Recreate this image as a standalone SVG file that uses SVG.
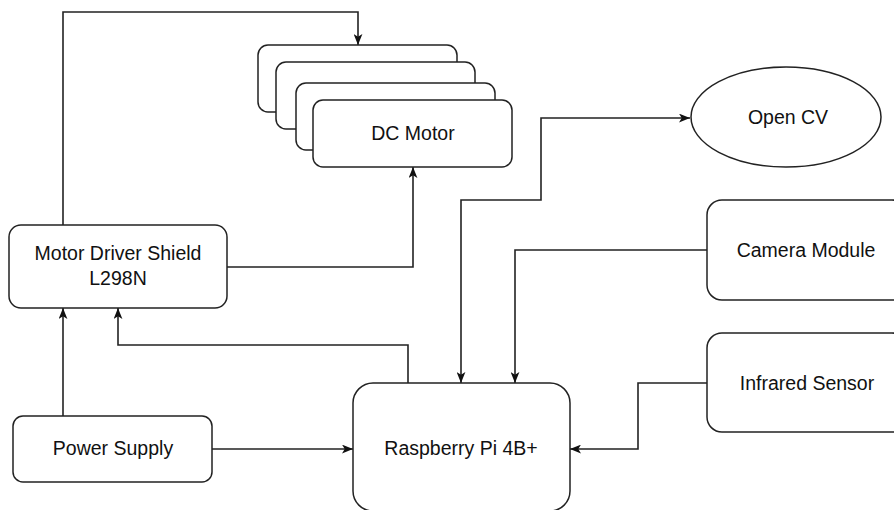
<svg xmlns="http://www.w3.org/2000/svg" width="894" height="510" viewBox="0 0 894 510">
<defs>
<style>
.box{fill:#fff;stroke:#222;stroke-width:1.5}
.lbl{font-family:"Liberation Sans",Arial,sans-serif;font-size:19.5px;fill:#111;text-anchor:middle}
.conn{fill:none;stroke:#222;stroke-width:1.6}
</style>
<marker id="arr" viewBox="0 0 10 8" refX="10" refY="4" markerWidth="11" markerHeight="9" markerUnits="userSpaceOnUse" orient="auto-start-reverse">
<path d="M0,0 L10,4 L0,8 L2.5,4 z" fill="#111"/>
</marker>
</defs>
<rect width="894" height="510" fill="#fff"/>
<g id="connectors">
<path class="conn" d="M63,225 V12 H358 V45" marker-end="url(#arr)"/>
<path class="conn" d="M227,267 H413 V167" marker-end="url(#arr)"/>
<path class="conn" d="M63,416 V308" marker-end="url(#arr)"/>
<path class="conn" d="M408,383 V345 H118 V308" marker-end="url(#arr)"/>
<path class="conn" d="M212,449 H353" marker-end="url(#arr)"/>
<path class="conn" d="M461,383 V200 H541 V118 H690" marker-start="url(#arr)" marker-end="url(#arr)"/>
<path class="conn" d="M707,250 H515 V383" marker-end="url(#arr)"/>
<path class="conn" d="M707,383 H638 V449 H570" marker-end="url(#arr)"/>
</g>
<g id="dc-motor">
<rect class="box" x="258" y="45" width="199" height="67" rx="10"/>
<rect class="box" x="276" y="62" width="199" height="67" rx="10"/>
<rect class="box" x="296" y="83" width="199" height="67" rx="10"/>
<rect class="box" x="313" y="100" width="199" height="67" rx="10"/>
<text class="lbl" x="413" y="140">DC Motor</text>
</g>
<g id="motor-driver">
<rect class="box" x="9" y="225" width="218" height="83" rx="12"/>
<text class="lbl" x="118" y="260">Motor Driver Shield</text>
<text class="lbl" x="118" y="285">L298N</text>
</g>
<g id="power-supply">
<rect class="box" x="13" y="416" width="199" height="66" rx="10"/>
<text class="lbl" x="113" y="455">Power Supply</text>
</g>
<g id="raspberry-pi">
<rect class="box" x="353" y="383" width="217" height="128" rx="20"/>
<text class="lbl" x="461" y="455">Raspberry Pi 4B+</text>
</g>
<g id="open-cv">
<ellipse class="box" cx="786" cy="117" rx="95" ry="50"/>
<text class="lbl" x="788" y="124">Open CV</text>
</g>
<g id="camera-module">
<rect class="box" x="707" y="200" width="200" height="100" rx="15"/>
<text class="lbl" x="806" y="257">Camera Module</text>
</g>
<g id="infrared-sensor">
<rect class="box" x="707" y="333" width="200" height="99" rx="15"/>
<text class="lbl" x="807" y="390">Infrared Sensor</text>
</g>
</svg>
